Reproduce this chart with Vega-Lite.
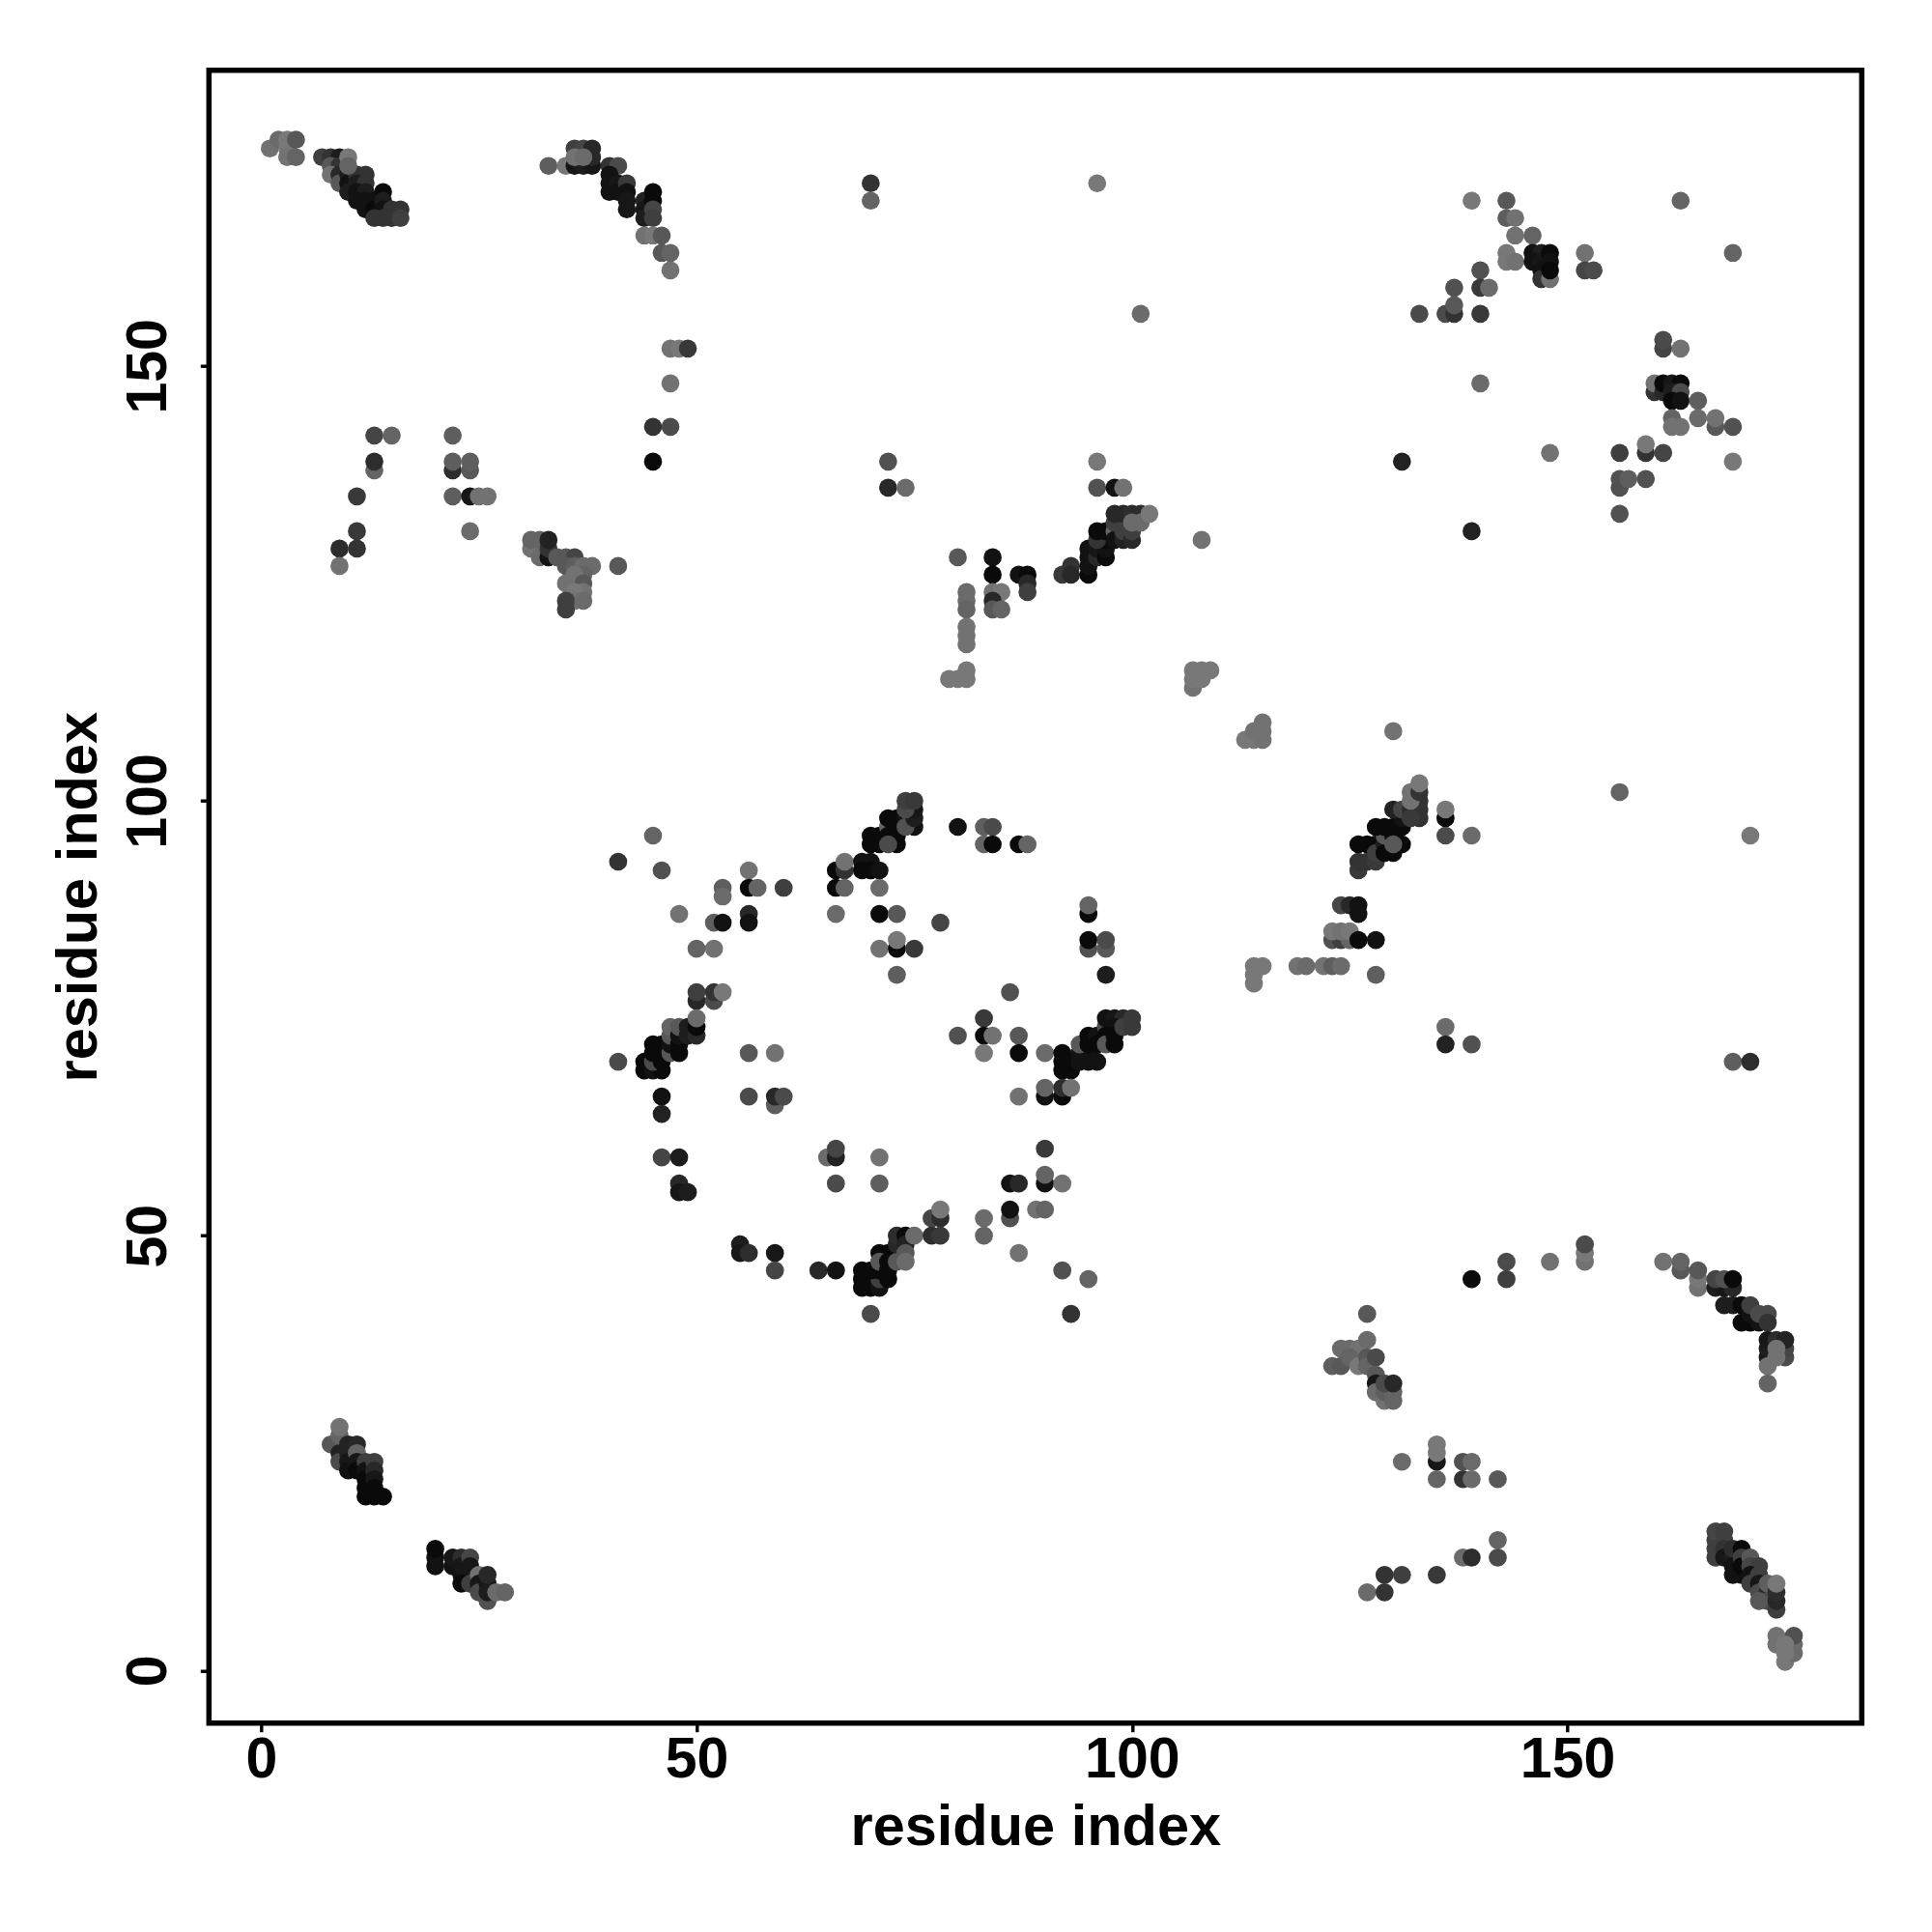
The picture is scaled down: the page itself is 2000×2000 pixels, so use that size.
{"$schema":"https://vega.github.io/schema/vega-lite/v6.json","width":1711,"height":1711,"autosize":"none","padding":{"left":216.3,"top":72.7,"right":72.7,"bottom":216.3},"background":"white","config":{"view":{"stroke":"#000000","strokeWidth":5.5},"font":"Liberation Sans"},"data":{"values":[
{"i":1,"j":175,"p":0.1},{"i":2,"j":176,"p":0.15},{"i":3,"j":176,"p":0.05},{"i":3,"j":175,"p":0.05},{"i":3,"j":174,"p":0.1},{"i":4,"j":176,"p":0.3},{"i":4,"j":174,"p":0.2},
{"i":7,"j":174,"p":0.5},{"i":8,"j":174,"p":0.6},{"i":9,"j":174,"p":0.8},{"i":8,"j":173,"p":0.3},{"i":9,"j":173,"p":0.6},{"i":8,"j":172,"p":0.1},{"i":9,"j":172,"p":0.7},{"i":9,"j":171,"p":0.3},{"i":10,"j":172,"p":0.8},{"i":10,"j":171,"p":0.9},{"i":10,"j":170,"p":0.8},{"i":11,"j":172,"p":0.6},{"i":12,"j":172,"p":0.6},{"i":11,"j":171,"p":0.8},{"i":12,"j":171,"p":0.6},{"i":11,"j":170,"p":0.9},{"i":12,"j":170,"p":0.8},{"i":11,"j":169,"p":0.9},{"i":12,"j":169,"p":0.9},{"i":13,"j":169,"p":0.9},{"i":12,"j":168,"p":0.9},{"i":13,"j":168,"p":0.95},{"i":14,"j":170,"p":0.95},{"i":14,"j":169,"p":0.8},{"i":14,"j":168,"p":0.9},{"i":13,"j":167,"p":0.6},{"i":14,"j":167,"p":0.6},{"i":15,"j":167,"p":0.6},{"i":15,"j":168,"p":0.6},{"i":16,"j":168,"p":0.6},{"i":16,"j":167,"p":0.5},{"i":10,"j":174,"p":0.05},{"i":10,"j":173,"p":0.2},
{"i":33,"j":173,"p":0.25},{"i":35,"j":173,"p":0.05},{"i":36,"j":173,"p":0.85},{"i":37,"j":173,"p":0.8},{"i":38,"j":173,"p":0.85},{"i":36,"j":175,"p":0.5},{"i":37,"j":175,"p":0.45},{"i":38,"j":175,"p":0.7},{"i":38,"j":174,"p":0.7},{"i":36,"j":174,"p":0.1},{"i":37,"j":174,"p":0.15},
{"i":40,"j":173,"p":0.6},{"i":41,"j":173,"p":0.4},{"i":40,"j":172,"p":0.9},{"i":40,"j":171,"p":0.9},{"i":40,"j":170,"p":0.9},{"i":41,"j":171,"p":0.85},{"i":41,"j":170,"p":0.9},{"i":42,"j":171,"p":0.55},{"i":42,"j":170,"p":0.9},{"i":42,"j":169,"p":0.85},{"i":42,"j":168,"p":0.85},{"i":44,"j":169,"p":0.75},{"i":44,"j":168,"p":0.85},{"i":44,"j":167,"p":0.8},{"i":45,"j":170,"p":0.95},{"i":45,"j":169,"p":0.95},{"i":45,"j":168,"p":0.45},{"i":45,"j":167,"p":0.5},
{"i":44,"j":165,"p":0.1},{"i":45,"j":165,"p":0.05},{"i":46,"j":165,"p":0.3},{"i":46,"j":163,"p":0.3},{"i":47,"j":163,"p":0.2},{"i":47,"j":161,"p":0.1},{"i":47,"j":152,"p":0.1},{"i":48,"j":152,"p":0.05},{"i":49,"j":152,"p":0.55},{"i":47,"j":148,"p":0.1},{"i":45,"j":143,"p":0.6},{"i":47,"j":143,"p":0.4},{"i":45,"j":139,"p":0.95},
{"i":13,"j":142,"p":0.45},{"i":15,"j":142,"p":0.2},{"i":13,"j":138,"p":0.2},{"i":13,"j":139,"p":0.65},{"i":11,"j":135,"p":0.55},{"i":11,"j":131,"p":0.55},{"i":9,"j":129,"p":0.65},{"i":11,"j":129,"p":0.6},{"i":9,"j":127,"p":0.1},
{"i":22,"j":142,"p":0.25},{"i":22,"j":138,"p":0.65},{"i":22,"j":139,"p":0.25},{"i":24,"j":138,"p":0.3},{"i":24,"j":139,"p":0.25},{"i":22,"j":135,"p":0.25},{"i":24,"j":135,"p":0.85},{"i":25,"j":135,"p":0.1},{"i":26,"j":135,"p":0.1},{"i":24,"j":131,"p":0.15},
{"i":31,"j":129,"p":0.1},{"i":32,"j":128,"p":0.15},{"i":31,"j":130,"p":0.2},{"i":32,"j":130,"p":0.2},{"i":33,"j":128,"p":0.9},{"i":33,"j":129,"p":0.6},{"i":33,"j":130,"p":0.75},{"i":34,"j":128,"p":0.3},{"i":35,"j":128,"p":0.3},{"i":36,"j":128,"p":0.45},{"i":35,"j":127,"p":0.3},{"i":36,"j":127,"p":0.25},{"i":37,"j":127,"p":0.15},{"i":38,"j":127,"p":0.15},{"i":41,"j":127,"p":0.3},{"i":37,"j":126,"p":0.2},{"i":36,"j":126,"p":0.1},{"i":35,"j":125,"p":0.1},{"i":36,"j":125,"p":0.1},{"i":37,"j":125,"p":0.3},{"i":37,"j":124,"p":0.1},{"i":36,"j":124,"p":0.05},{"i":36,"j":123,"p":0.1},{"i":35,"j":123,"p":0.5},{"i":35,"j":122,"p":0.5},{"i":37,"j":123,"p":0.15},
{"i":70,"j":171,"p":0.6},{"i":70,"j":169,"p":0.2},{"i":96,"j":171,"p":0.05},{"i":101,"j":156,"p":0.15},{"i":72,"j":139,"p":0.35},{"i":72,"j":136,"p":0.7},{"i":74,"j":136,"p":0.15},{"i":96,"j":139,"p":0.05},{"i":96,"j":136,"p":0.35},{"i":98,"j":136,"p":0.9},{"i":99,"j":136,"p":0.1},
{"i":92,"j":126,"p":0.55},{"i":93,"j":127,"p":0.6},{"i":93,"j":126,"p":0.7},{"i":95,"j":126,"p":0.95},{"i":95,"j":127,"p":0.9},{"i":95,"j":128,"p":0.9},{"i":95,"j":129,"p":0.9},{"i":96,"j":128,"p":0.7},{"i":96,"j":129,"p":0.85},{"i":97,"j":128,"p":0.95},{"i":97,"j":129,"p":0.9},{"i":97,"j":130,"p":0.95},{"i":96,"j":130,"p":0.6},{"i":96,"j":131,"p":0.95},{"i":97,"j":131,"p":0.95},{"i":98,"j":131,"p":0.2},{"i":98,"j":130,"p":0.9},{"i":99,"j":130,"p":0.75},{"i":99,"j":131,"p":0.5},{"i":100,"j":130,"p":0.7},{"i":98,"j":132,"p":0.5},{"i":99,"j":132,"p":0.5},{"i":100,"j":131,"p":0.5},{"i":98,"j":133,"p":0.7},{"i":99,"j":133,"p":0.7},{"i":100,"j":133,"p":0.65},{"i":101,"j":133,"p":0.65},{"i":100,"j":132,"p":0.15},{"i":101,"j":132,"p":0.15},{"i":102,"j":133,"p":0.05},
{"i":80,"j":128,"p":0.3},{"i":84,"j":128,"p":0.9},{"i":84,"j":126,"p":0.95},{"i":87,"j":126,"p":0.9},{"i":88,"j":126,"p":0.95},{"i":88,"j":125,"p":0.7},{"i":88,"j":124,"p":0.5},{"i":81,"j":124,"p":0.15},{"i":81,"j":123,"p":0.15},{"i":81,"j":122,"p":0.2},{"i":81,"j":120,"p":0.1},{"i":81,"j":119,"p":0.1},{"i":81,"j":118,"p":0.1},{"i":84,"j":124,"p":0.1},{"i":85,"j":124,"p":0.05},{"i":84,"j":123,"p":0.7},{"i":84,"j":122,"p":0.3},{"i":85,"j":122,"p":0.2},{"i":79,"j":114,"p":0.05},{"i":80,"j":114,"p":0.05},{"i":81,"j":114,"p":0.05},{"i":81,"j":115,"p":0.05},
{"i":108,"j":130,"p":0.1},{"i":107,"j":113,"p":0.1},{"i":107,"j":114,"p":0.05},{"i":107,"j":115,"p":0.05},{"i":108,"j":114,"p":0.05},{"i":108,"j":115,"p":0.05},{"i":109,"j":115,"p":0.05},{"i":113,"j":107,"p":0.05},{"i":114,"j":107,"p":0.05},{"i":115,"j":107,"p":0.1},{"i":115,"j":108,"p":0.1},{"i":115,"j":109,"p":0.1},{"i":114,"j":108,"p":0.1},{"i":130,"j":108,"p":0.1},
{"i":45,"j":96,"p":0.2},{"i":41,"j":93,"p":0.6},{"i":46,"j":92,"p":0.35},{"i":53,"j":90,"p":0.25},{"i":53,"j":89,"p":0.15},{"i":56,"j":92,"p":0.1},{"i":56,"j":90,"p":0.95},{"i":57,"j":90,"p":0.2},{"i":60,"j":90,"p":0.5},{"i":48,"j":87,"p":0.1},{"i":52,"j":86,"p":0.25},{"i":53,"j":86,"p":0.9},{"i":56,"j":87,"p":0.7},{"i":56,"j":86,"p":0.9},{"i":50,"j":83,"p":0.2},{"i":52,"j":83,"p":0.1},
{"i":66,"j":92,"p":0.95},{"i":67,"j":92,"p":0.6},{"i":67,"j":93,"p":0.1},{"i":66,"j":90,"p":0.95},{"i":67,"j":90,"p":0.2},{"i":69,"j":93,"p":0.9},{"i":70,"j":93,"p":0.9},{"i":69,"j":92,"p":0.95},{"i":70,"j":92,"p":0.95},{"i":71,"j":92,"p":0.9},{"i":71,"j":90,"p":0.15},{"i":70,"j":96,"p":0.95},{"i":70,"j":95,"p":0.95},{"i":71,"j":96,"p":0.95},{"i":71,"j":95,"p":0.95},{"i":72,"j":97,"p":0.2},{"i":72,"j":96,"p":0.95},{"i":72,"j":98,"p":0.95},{"i":73,"j":98,"p":0.95},{"i":73,"j":97,"p":0.95},{"i":73,"j":96,"p":0.95},{"i":73,"j":95,"p":0.95},{"i":72,"j":95,"p":0.4},{"i":74,"j":98,"p":0.9},{"i":75,"j":97,"p":0.9},{"i":74,"j":97,"p":0.35},{"i":75,"j":98,"p":0.8},{"i":75,"j":99,"p":0.85},{"i":74,"j":99,"p":0.4},{"i":74,"j":100,"p":0.5},{"i":75,"j":100,"p":0.55},
{"i":66,"j":87,"p":0.15},{"i":71,"j":87,"p":0.95},{"i":73,"j":87,"p":0.3},{"i":78,"j":86,"p":0.45},{"i":71,"j":83,"p":0.1},{"i":73,"j":83,"p":0.95},{"i":73,"j":84,"p":0.05},{"i":75,"j":83,"p":0.55},{"i":73,"j":80,"p":0.25},
{"i":80,"j":97,"p":0.9},{"i":83,"j":97,"p":0.25},{"i":84,"j":97,"p":0.4},{"i":83,"j":95,"p":0.2},{"i":84,"j":95,"p":0.95},{"i":87,"j":95,"p":0.95},{"i":88,"j":95,"p":0.2},
{"i":50,"j":77,"p":0.7},{"i":50,"j":78,"p":0.5},{"i":52,"j":77,"p":0.4},{"i":52,"j":78,"p":0.6},{"i":53,"j":78,"p":0.05},{"i":44,"j":70,"p":0.95},{"i":44,"j":69,"p":0.95},{"i":45,"j":69,"p":0.9},{"i":46,"j":69,"p":0.95},{"i":45,"j":70,"p":0.4},{"i":46,"j":70,"p":0.95},{"i":45,"j":71,"p":0.95},{"i":46,"j":71,"p":0.95},{"i":45,"j":72,"p":0.95},{"i":46,"j":72,"p":0.95},{"i":47,"j":71,"p":0.3},{"i":47,"j":72,"p":0.9},{"i":47,"j":73,"p":0.3},{"i":47,"j":74,"p":0.2},{"i":48,"j":71,"p":0.95},{"i":48,"j":72,"p":0.95},{"i":48,"j":73,"p":0.9},{"i":48,"j":74,"p":0.3},{"i":49,"j":73,"p":0.8},{"i":49,"j":74,"p":0.8},{"i":50,"j":73,"p":0.7},{"i":50,"j":74,"p":0.95},{"i":50,"j":75,"p":0.15},{"i":41,"j":70,"p":0.4},
{"i":56,"j":71,"p":0.3},{"i":59,"j":71,"p":0.1},{"i":56,"j":66,"p":0.4},{"i":59,"j":65,"p":0.25},{"i":59,"j":66,"p":0.7},{"i":60,"j":66,"p":0.4},{"i":46,"j":66,"p":0.9},{"i":46,"j":64,"p":0.75},{"i":46,"j":59,"p":0.45},{"i":48,"j":59,"p":0.8},{"i":48,"j":56,"p":0.7},{"i":48,"j":55,"p":0.85},{"i":49,"j":55,"p":0.8},
{"i":65,"j":59,"p":0.15},{"i":66,"j":59,"p":0.75},{"i":66,"j":60,"p":0.45},{"i":71,"j":59,"p":0.1},{"i":66,"j":56,"p":0.4},{"i":71,"j":56,"p":0.25},
{"i":55,"j":49,"p":0.8},{"i":55,"j":48,"p":0.85},{"i":56,"j":48,"p":0.65},{"i":59,"j":48,"p":0.85},{"i":59,"j":46,"p":0.45},{"i":64,"j":46,"p":0.7},{"i":66,"j":46,"p":0.9},{"i":70,"j":41,"p":0.4},
{"i":69,"j":46,"p":0.95},{"i":69,"j":45,"p":0.95},{"i":69,"j":44,"p":0.95},{"i":70,"j":44,"p":0.95},{"i":70,"j":45,"p":0.95},{"i":71,"j":44,"p":0.9},{"i":71,"j":45,"p":0.5},{"i":72,"j":45,"p":0.95},{"i":70,"j":46,"p":0.95},{"i":71,"j":46,"p":0.95},{"i":71,"j":48,"p":0.95},{"i":72,"j":48,"p":0.95},{"i":71,"j":47,"p":0.3},{"i":72,"j":47,"p":0.95},{"i":72,"j":46,"p":0.95},{"i":73,"j":47,"p":0.3},{"i":73,"j":49,"p":0.7},{"i":73,"j":50,"p":0.65},{"i":74,"j":50,"p":0.95},{"i":74,"j":49,"p":0.75},{"i":74,"j":48,"p":0.3},{"i":74,"j":47,"p":0.15},{"i":75,"j":50,"p":0.15},
{"i":77,"j":52,"p":0.45},{"i":78,"j":52,"p":0.65},{"i":78,"j":53,"p":0.05},{"i":77,"j":50,"p":0.65},{"i":78,"j":50,"p":0.55},{"i":83,"j":52,"p":0.15},{"i":83,"j":50,"p":0.2},{"i":86,"j":52,"p":0.35},{"i":86,"j":53,"p":0.9},{"i":86,"j":56,"p":0.9},{"i":87,"j":56,"p":0.7},{"i":87,"j":48,"p":0.1},{"i":89,"j":53,"p":0.1},{"i":90,"j":53,"p":0.2},{"i":90,"j":56,"p":0.9},{"i":90,"j":57,"p":0.2},{"i":92,"j":56,"p":0.1},{"i":90,"j":60,"p":0.55},{"i":92,"j":46,"p":0.35},{"i":93,"j":41,"p":0.6},{"i":95,"j":45,"p":0.2},
{"i":95,"j":87,"p":0.95},{"i":95,"j":88,"p":0.2},{"i":95,"j":83,"p":0.35},{"i":95,"j":84,"p":0.95},{"i":97,"j":83,"p":0.3},{"i":97,"j":84,"p":0.4},{"i":97,"j":80,"p":0.8},{"i":86,"j":78,"p":0.35},{"i":83,"j":75,"p":0.55},{"i":80,"j":73,"p":0.35},{"i":83,"j":73,"p":0.95},{"i":84,"j":73,"p":0.1},{"i":83,"j":71,"p":0.05},{"i":87,"j":73,"p":0.3},{"i":87,"j":71,"p":0.95},{"i":90,"j":71,"p":0.15},{"i":87,"j":66,"p":0.1},
{"i":92,"j":71,"p":0.95},{"i":92,"j":70,"p":0.95},{"i":92,"j":69,"p":0.95},{"i":93,"j":70,"p":0.95},{"i":93,"j":69,"p":0.95},{"i":90,"j":66,"p":0.9},{"i":90,"j":67,"p":0.2},{"i":92,"j":66,"p":0.95},{"i":92,"j":67,"p":0.65},{"i":93,"j":67,"p":0.1},
{"i":94,"j":70,"p":0.9},{"i":95,"j":70,"p":0.9},{"i":96,"j":70,"p":0.9},{"i":94,"j":71,"p":0.9},{"i":95,"j":71,"p":0.9},{"i":94,"j":72,"p":0.3},{"i":95,"j":73,"p":0.95},{"i":95,"j":72,"p":0.95},{"i":96,"j":73,"p":0.9},{"i":96,"j":72,"p":0.95},{"i":97,"j":74,"p":0.4},{"i":97,"j":75,"p":0.9},{"i":98,"j":75,"p":0.85},{"i":99,"j":75,"p":0.7},{"i":98,"j":74,"p":0.9},{"i":97,"j":73,"p":0.95},{"i":97,"j":72,"p":0.3},{"i":98,"j":72,"p":0.95},{"i":98,"j":73,"p":0.95},{"i":99,"j":74,"p":0.5},{"i":100,"j":75,"p":0.55},{"i":100,"j":74,"p":0.55},
{"i":126,"j":92,"p":0.55},{"i":126,"j":93,"p":0.6},{"i":127,"j":93,"p":0.6},{"i":128,"j":93,"p":0.55},{"i":126,"j":95,"p":0.95},{"i":127,"j":95,"p":0.95},{"i":128,"j":95,"p":0.95},{"i":128,"j":94,"p":0.5},{"i":129,"j":95,"p":0.8},{"i":129,"j":94,"p":0.95},{"i":130,"j":94,"p":0.95},{"i":129,"j":96,"p":0.3},{"i":128,"j":97,"p":0.95},{"i":129,"j":97,"p":0.95},{"i":130,"j":97,"p":0.95},{"i":130,"j":96,"p":0.95},{"i":131,"j":97,"p":0.95},{"i":131,"j":95,"p":0.95},{"i":130,"j":95,"p":0.3},{"i":131,"j":98,"p":0.9},{"i":130,"j":99,"p":0.75},{"i":131,"j":99,"p":0.45},{"i":132,"j":99,"p":0.65},{"i":133,"j":99,"p":0.6},{"i":133,"j":98,"p":0.6},{"i":132,"j":98,"p":0.55},{"i":133,"j":100,"p":0.6},{"i":132,"j":100,"p":0.1},{"i":132,"j":101,"p":0.1},{"i":133,"j":101,"p":0.6},{"i":133,"j":102,"p":0.05},
{"i":136,"j":98,"p":0.95},{"i":136,"j":99,"p":0.05},{"i":136,"j":96,"p":0.4},{"i":139,"j":96,"p":0.15},{"i":171,"j":96,"p":0.05},{"i":156,"j":101,"p":0.2},
{"i":124,"j":88,"p":0.45},{"i":125,"j":88,"p":0.7},{"i":126,"j":88,"p":0.9},{"i":126,"j":87,"p":0.9},{"i":123,"j":84,"p":0.35},{"i":124,"j":84,"p":0.5},{"i":125,"j":84,"p":0.2},{"i":123,"j":85,"p":0.05},{"i":124,"j":85,"p":0.1},{"i":125,"j":85,"p":0.05},{"i":126,"j":84,"p":0.95},{"i":128,"j":84,"p":0.9},
{"i":119,"j":81,"p":0.1},{"i":120,"j":81,"p":0.15},{"i":122,"j":81,"p":0.1},{"i":123,"j":81,"p":0.25},{"i":124,"j":81,"p":0.15},{"i":128,"j":80,"p":0.25},{"i":114,"j":79,"p":0.05},{"i":114,"j":80,"p":0.05},{"i":114,"j":81,"p":0.05},{"i":115,"j":81,"p":0.05},
{"i":136,"j":74,"p":0.15},{"i":136,"j":72,"p":0.75},{"i":139,"j":72,"p":0.35},{"i":169,"j":70,"p":0.25},{"i":171,"j":70,"p":0.65},
{"i":139,"j":169,"p":0.05},{"i":143,"j":169,"p":0.3},{"i":143,"j":167,"p":0.25},{"i":144,"j":167,"p":0.1},{"i":144,"j":165,"p":0.1},{"i":146,"j":165,"p":0.2},{"i":143,"j":163,"p":0.05},{"i":143,"j":162,"p":0.05},{"i":144,"j":162,"p":0.1},{"i":146,"j":163,"p":0.9},{"i":147,"j":163,"p":0.8},{"i":146,"j":162,"p":0.9},{"i":147,"j":162,"p":0.85},{"i":147,"j":161,"p":0.9},{"i":147,"j":160,"p":0.6},{"i":148,"j":160,"p":0.1},{"i":148,"j":163,"p":0.95},{"i":148,"j":162,"p":0.9},{"i":148,"j":161,"p":0.95},{"i":152,"j":163,"p":0.1},{"i":152,"j":161,"p":0.45},{"i":153,"j":161,"p":0.4},{"i":163,"j":169,"p":0.2},{"i":169,"j":163,"p":0.2},
{"i":140,"j":161,"p":0.35},{"i":137,"j":159,"p":0.35},{"i":140,"j":159,"p":0.55},{"i":141,"j":159,"p":0.15},{"i":133,"j":156,"p":0.4},{"i":136,"j":156,"p":0.4},{"i":137,"j":156,"p":0.6},{"i":137,"j":157,"p":0.3},{"i":140,"j":156,"p":0.55},
{"i":161,"j":152,"p":0.45},{"i":161,"j":153,"p":0.4},{"i":163,"j":152,"p":0.1},{"i":140,"j":148,"p":0.15},{"i":160,"j":147,"p":0.6},{"i":160,"j":148,"p":0.1},{"i":161,"j":147,"p":0.7},{"i":161,"j":148,"p":0.95},{"i":162,"j":148,"p":0.85},{"i":163,"j":148,"p":0.95},{"i":162,"j":147,"p":0.8},{"i":163,"j":147,"p":0.4},{"i":162,"j":146,"p":0.95},{"i":163,"j":146,"p":0.9},{"i":165,"j":146,"p":0.25},{"i":162,"j":144,"p":0.2},{"i":162,"j":143,"p":0.1},{"i":163,"j":143,"p":0.1},{"i":165,"j":144,"p":0.15},{"i":167,"j":143,"p":0.3},{"i":167,"j":144,"p":0.1},{"i":169,"j":143,"p":0.35},
{"i":148,"j":140,"p":0.1},{"i":156,"j":140,"p":0.5},{"i":159,"j":140,"p":0.6},{"i":159,"j":141,"p":0.05},{"i":161,"j":140,"p":0.45},{"i":131,"j":139,"p":0.75},{"i":169,"j":139,"p":0.05},{"i":156,"j":136,"p":0.35},{"i":156,"j":137,"p":0.35},{"i":157,"j":137,"p":0.25},{"i":159,"j":137,"p":0.35},{"i":156,"j":133,"p":0.35},{"i":139,"j":131,"p":0.75},
{"i":139,"j":45,"p":0.95},{"i":143,"j":47,"p":0.4},{"i":143,"j":45,"p":0.5},{"i":148,"j":47,"p":0.1},{"i":152,"j":47,"p":0.1},{"i":152,"j":48,"p":0.05},{"i":152,"j":49,"p":0.4},{"i":161,"j":47,"p":0.1},{"i":163,"j":46,"p":0.3},{"i":163,"j":47,"p":0.2},{"i":165,"j":44,"p":0.1},{"i":165,"j":45,"p":0.05},{"i":165,"j":46,"p":0.3},
{"i":167,"j":44,"p":0.8},{"i":168,"j":44,"p":0.85},{"i":169,"j":44,"p":0.7},{"i":167,"j":45,"p":0.45},{"i":168,"j":45,"p":0.35},{"i":169,"j":45,"p":0.95},
{"i":168,"j":42,"p":0.8},{"i":169,"j":42,"p":0.8},{"i":170,"j":42,"p":0.95},{"i":170,"j":40,"p":0.95},{"i":171,"j":40,"p":0.95},{"i":172,"j":40,"p":0.9},{"i":171,"j":41,"p":0.9},{"i":171,"j":42,"p":0.5},{"i":172,"j":41,"p":0.4},{"i":173,"j":41,"p":0.4},{"i":173,"j":40,"p":0.6},
{"i":173,"j":36,"p":0.85},{"i":173,"j":37,"p":0.8},{"i":173,"j":38,"p":0.85},{"i":175,"j":36,"p":0.4},{"i":175,"j":37,"p":0.45},{"i":174,"j":38,"p":0.65},{"i":175,"j":38,"p":0.75},{"i":174,"j":36,"p":0.1},{"i":174,"j":37,"p":0.1},{"i":173,"j":35,"p":0.1},{"i":173,"j":33,"p":0.2},
{"i":127,"j":41,"p":0.3},{"i":123,"j":35,"p":0.25},{"i":124,"j":35,"p":0.3},{"i":124,"j":37,"p":0.15},{"i":125,"j":37,"p":0.15},{"i":126,"j":37,"p":0.1},{"i":127,"j":38,"p":0.15},{"i":125,"j":36,"p":0.2},{"i":126,"j":35,"p":0.05},{"i":127,"j":36,"p":0.3},{"i":127,"j":35,"p":0.2},{"i":128,"j":36,"p":0.4},{"i":128,"j":34,"p":0.3},{"i":128,"j":33,"p":0.85},{"i":128,"j":32,"p":0.15},{"i":129,"j":31,"p":0.1},{"i":129,"j":32,"p":0.25},{"i":130,"j":31,"p":0.2},{"i":130,"j":32,"p":0.2},{"i":129,"j":33,"p":0.4},{"i":130,"j":33,"p":0.7},
{"i":131,"j":24,"p":0.15},{"i":135,"j":26,"p":0.05},{"i":135,"j":24,"p":0.85},{"i":135,"j":25,"p":0.05},{"i":135,"j":22,"p":0.2},{"i":138,"j":24,"p":0.35},{"i":139,"j":24,"p":0.15},{"i":138,"j":22,"p":0.6},{"i":139,"j":22,"p":0.15},{"i":142,"j":22,"p":0.3},
{"i":142,"j":15,"p":0.2},{"i":142,"j":13,"p":0.4},{"i":138,"j":13,"p":0.15},{"i":139,"j":13,"p":0.65},{"i":129,"j":11,"p":0.6},{"i":131,"j":11,"p":0.5},{"i":135,"j":11,"p":0.55},{"i":127,"j":9,"p":0.15},{"i":129,"j":9,"p":0.6},
{"i":167,"j":13,"p":0.5},{"i":167,"j":14,"p":0.5},{"i":167,"j":15,"p":0.5},{"i":167,"j":16,"p":0.45},{"i":168,"j":16,"p":0.5},{"i":168,"j":15,"p":0.5},{"i":168,"j":14,"p":0.6},{"i":168,"j":13,"p":0.85},{"i":169,"j":13,"p":0.8},{"i":169,"j":14,"p":0.65},{"i":170,"j":14,"p":0.95},{"i":169,"j":12,"p":0.9},{"i":170,"j":13,"p":0.5},{"i":169,"j":11,"p":0.9},{"i":170,"j":11,"p":0.9},{"i":170,"j":12,"p":0.95},{"i":171,"j":13,"p":0.3},{"i":171,"j":12,"p":0.45},{"i":172,"j":12,"p":0.5},{"i":171,"j":11,"p":0.9},{"i":172,"j":11,"p":0.5},{"i":171,"j":10,"p":0.5},{"i":172,"j":10,"p":0.85},{"i":172,"j":9,"p":0.4},{"i":173,"j":9,"p":0.7},{"i":173,"j":8,"p":0.4},{"i":172,"j":8,"p":0.3},{"i":173,"j":10,"p":0.25},{"i":174,"j":7,"p":0.5},{"i":174,"j":8,"p":0.7},{"i":174,"j":9,"p":0.65},{"i":174,"j":10,"p":0.05},
{"i":174,"j":4,"p":0.1},{"i":174,"j":3,"p":0.1},{"i":175,"j":1,"p":0.05},{"i":176,"j":2,"p":0.15},{"i":176,"j":3,"p":0.15},{"i":176,"j":4,"p":0.35},{"i":175,"j":3,"p":0.05},{"i":175,"j":2,"p":0.05},
{"i":8,"j":26,"p":0.3},{"i":9,"j":25,"p":0.75},{"i":9,"j":24,"p":0.4},{"i":9,"j":27,"p":0.2},{"i":9,"j":28,"p":0.1},{"i":10,"j":26,"p":0.75},{"i":10,"j":25,"p":0.75},{"i":10,"j":24,"p":0.85},{"i":10,"j":23,"p":0.9},{"i":11,"j":26,"p":0.7},{"i":11,"j":25,"p":0.2},{"i":11,"j":24,"p":0.85},{"i":11,"j":23,"p":0.95},{"i":12,"j":24,"p":0.5},{"i":12,"j":23,"p":0.9},{"i":12,"j":22,"p":0.95},{"i":12,"j":21,"p":0.95},{"i":13,"j":24,"p":0.5},{"i":13,"j":23,"p":0.7},{"i":13,"j":22,"p":0.85},{"i":13,"j":21,"p":0.95},{"i":12,"j":20,"p":0.95},{"i":13,"j":20,"p":0.95},{"i":14,"j":20,"p":0.95},
{"i":20,"j":12,"p":0.9},{"i":20,"j":13,"p":0.9},{"i":20,"j":14,"p":0.95},{"i":22,"j":12,"p":0.9},{"i":22,"j":13,"p":0.85},{"i":23,"j":13,"p":0.65},{"i":23,"j":11,"p":0.9},{"i":23,"j":12,"p":0.85},{"i":23,"j":10,"p":0.95},{"i":24,"j":13,"p":0.45},{"i":24,"j":12,"p":0.85},{"i":24,"j":10,"p":0.5},{"i":25,"j":11,"p":0.1},{"i":25,"j":10,"p":0.85},{"i":25,"j":9,"p":0.4},{"i":26,"j":8,"p":0.35},{"i":26,"j":10,"p":0.85},{"i":26,"j":9,"p":0.8},{"i":26,"j":11,"p":0.7},{"i":27,"j":9,"p":0.15},{"i":28,"j":9,"p":0.2}
]},"mark":{"type":"point","filled":true,"shape":"circle","size":350,"opacity":1,"strokeWidth":0},"encoding":{"x":{"field":"i","type":"quantitative","scale":{"domain":[-5.99,183.8],"nice":false,"zero":false},"axis":{"grid":false,"domain":false,"values":[0,50,100,150],"title":"residue index","titleFontSize":59.5,"titleFontWeight":"bold","titleColor":"#000000","titleBaseline":"alphabetic","titleAnchor":"middle","titleY":126,"labelFontSize":59,"labelFontWeight":"bold","labelColor":"#000000","labelBaseline":"alphabetic","labelPadding":47,"tickSize":9,"tickWidth":3.4,"tickColor":"#000000","labelFlush":false,"labelOverlap":false}},"y":{"field":"j","type":"quantitative","scale":{"domain":[-6.04,184],"nice":false,"zero":false},"axis":{"grid":false,"domain":false,"values":[0,50,100,150],"title":"residue index","titleFontSize":59.5,"titleFontWeight":"bold","titleColor":"#000000","titleAngle":-90,"titleBaseline":"alphabetic","titleAnchor":"middle","titleX":-117,"labelFontSize":59,"labelFontWeight":"bold","labelColor":"#000000","labelAngle":-90,"labelAlign":"center","labelBaseline":"alphabetic","labelPadding":36,"tickSize":9,"tickWidth":3.4,"tickColor":"#000000","labelFlush":false,"labelOverlap":false}},"color":{"field":"p","type":"quantitative","legend":null,"scale":{"domain":[0,1],"range":["#7f7f7f","#000000"]}}}}
